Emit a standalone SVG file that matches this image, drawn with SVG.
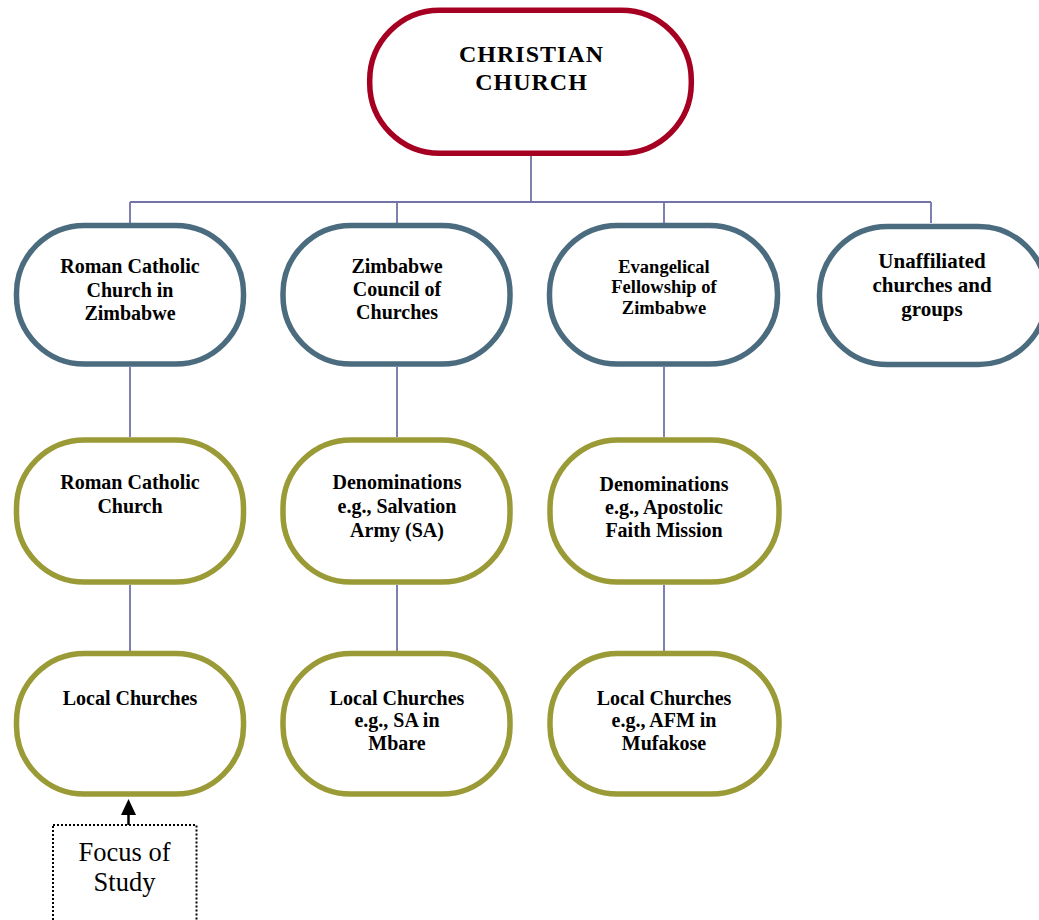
<svg xmlns="http://www.w3.org/2000/svg" width="1039" height="920" viewBox="0 0 1039 920">
<style>
.top{fill:#fff;stroke:#a50021;stroke-width:5.5}
.blue{fill:#fff;stroke:#4b6b7f;stroke-width:5.5}
.olive{fill:#fff;stroke:#9a9a36;stroke-width:5.5}
.conn{fill:none;stroke:#7373a8;stroke-width:1.8}
text{font-family:"Liberation Serif","Times New Roman",serif;font-weight:bold;fill:#000;text-anchor:middle}
.t20{font-size:20px}
.t18{font-size:18.5px}
.t21{font-size:21px}
.head{font-size:24px;letter-spacing:1px}
.focus{font-size:26.5px;font-weight:normal}
</style>
<defs>
<marker id="arr" viewBox="0 0 10 10" refX="5" refY="0" markerWidth="6" markerHeight="6.4" orient="auto" markerUnits="strokeWidth">
<path d="M0,10 L5,0 L10,10 Z" fill="#000"/>
</marker>
</defs>
<rect width="1039" height="920" fill="#fff"/>
<g id="connectors">
<path class="conn" d="M531,156 V202 M130,202 H931 M130,202 V223 M397,202 V223 M664,202 V223 M931,202 V223"/>
<path class="conn" d="M130,367 V437 M397,367 V437 M664,367 V437"/>
<path class="conn" d="M130,585 V651 M397,585 V651 M664,585 V651"/>
<line x1="128.5" y1="825" x2="128.5" y2="815" stroke="#000" stroke-width="2.5"/>
<path d="M121,815 L128.5,799 L136,815 Z" fill="#000"/>
</g>
<g id="christian-church">
<rect class="top" x="369.7" y="10.3" width="321.6" height="143" rx="70" ry="70"/>
<text class="head" x="531.5" y="62">CHRISTIAN</text>
<text class="head" x="531.5" y="90">CHURCH</text>
</g>
<g id="rcc-zimbabwe">
<rect class="blue" x="16.5" y="225.5" width="227" height="138.5" rx="68" ry="68"/>
<text class="t20" x="130" y="273">Roman Catholic</text>
<text class="t20" x="130" y="297">Church in</text>
<text class="t20" x="130" y="320">Zimbabwe</text>
</g>
<g id="zcc">
<rect class="blue" x="283" y="225.5" width="227" height="138.5" rx="68" ry="68"/>
<text class="t20" x="397" y="273">Zimbabwe</text>
<text class="t20" x="397" y="296">Council of</text>
<text class="t20" x="397" y="319">Churches</text>
</g>
<g id="efz">
<rect class="blue" x="549.5" y="225.5" width="228" height="138.5" rx="68" ry="68"/>
<text class="t18" x="664" y="273">Evangelical</text>
<text class="t18" x="664" y="293">Fellowship of</text>
<text class="t18" x="664" y="314">Zimbabwe</text>
</g>
<g id="unaffiliated">
<rect class="blue" x="819.5" y="226.5" width="227" height="138" rx="68" ry="68"/>
<text class="t21" x="932" y="268">Unaffiliated</text>
<text class="t21" x="932" y="292">churches and</text>
<text class="t21" x="932" y="316">groups</text>
</g>
<g id="rcc">
<rect class="olive" x="16.5" y="440" width="227" height="142" rx="68" ry="68"/>
<text class="t20" x="130" y="489">Roman Catholic</text>
<text class="t20" x="130" y="513">Church</text>
</g>
<g id="denom-sa">
<rect class="olive" x="283" y="440" width="227" height="142" rx="68" ry="68"/>
<text class="t20" x="397" y="489">Denominations</text>
<text class="t20" x="397" y="513">e.g., Salvation</text>
<text class="t20" x="397" y="537">Army (SA)</text>
</g>
<g id="denom-afm">
<rect class="olive" x="550" y="440" width="229" height="142" rx="68" ry="68"/>
<text class="t20" x="664" y="491">Denominations</text>
<text class="t20" x="664" y="514">e.g., Apostolic</text>
<text class="t20" x="664" y="537">Faith Mission</text>
</g>
<g id="local-rcc">
<rect class="olive" x="16.5" y="653.5" width="227" height="140.5" rx="68" ry="68"/>
<text class="t20" x="130" y="705">Local Churches</text>
</g>
<g id="local-sa">
<rect class="olive" x="283" y="653.5" width="227" height="140.5" rx="68" ry="68"/>
<text class="t20" x="397" y="705">Local Churches</text>
<text class="t20" x="397" y="727">e.g., SA in</text>
<text class="t20" x="397" y="750">Mbare</text>
</g>
<g id="local-afm">
<rect class="olive" x="550" y="653.5" width="229" height="140.5" rx="68" ry="68"/>
<text class="t20" x="664" y="705">Local Churches</text>
<text class="t20" x="664" y="727">e.g., AFM in</text>
<text class="t20" x="664" y="750">Mufakose</text>
</g>
<g id="focus">
<rect x="53" y="825" width="143.5" height="110" fill="none" stroke="#000" stroke-width="2" stroke-dasharray="2 2"/>
<text class="focus" x="124.5" y="861">Focus of</text>
<text class="focus" x="124.5" y="891">Study</text>
</g>
</svg>
